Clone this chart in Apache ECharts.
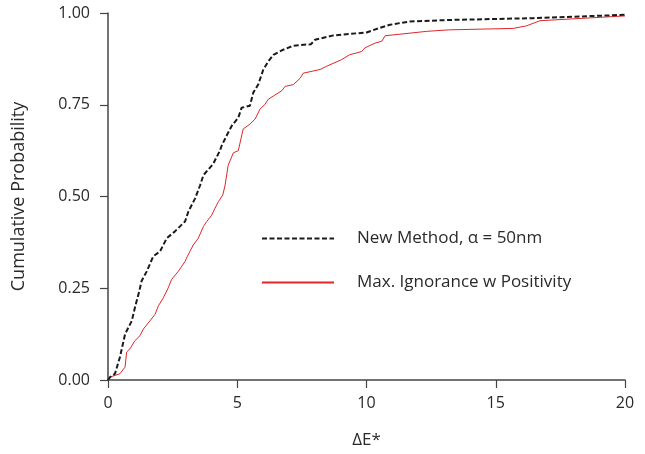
<!DOCTYPE html>
<html>
<head>
<meta charset="utf-8">
<script src="https://cdn.jsdelivr.net/npm/echarts@6/dist/echarts.min.js"></script>
<style>
  html, body { margin: 0; padding: 0; background: #fff; }
  #chart { width: 645px; height: 454px; }
</style>
</head>
<body>
<div id="chart"></div>
<script>
// New Method, alpha = 50nm  (dE*, cumulative probability)
const newMethodX = [0, 0.08, 0.27, 0.46, 0.66, 0.92, 1.04, 1.21, 1.30, 1.50, 1.75, 2.01, 2.27, 2.59, 2.98, 3.11, 3.37, 3.56, 3.69, 4.07, 4.33, 4.40, 4.59, 4.79, 5.04, 5.17, 5.49, 5.62, 5.81, 6.01, 6.20, 6.40, 6.78, 7.17, 7.85, 8.01, 8.72, 9.36, 10.0, 10.46, 10.91, 11.68, 13.23, 16.45, 20]
const newMethodY = [0, 0.008, 0.017, 0.062, 0.125, 0.161, 0.197, 0.242, 0.27, 0.296, 0.337, 0.35, 0.386, 0.405, 0.432, 0.459, 0.495, 0.53, 0.558, 0.589, 0.625, 0.639, 0.666, 0.693, 0.715, 0.742, 0.747, 0.783, 0.805, 0.846, 0.868, 0.886, 0.90, 0.911, 0.915, 0.927, 0.939, 0.943, 0.947, 0.958, 0.968, 0.977, 0.981, 0.986, 0.995]

// Max. Ignorance w Positivity
const maxIgnX = [0, 0.08, 0.46, 0.66, 0.72, 0.85, 1.04, 1.24, 1.37, 1.62, 1.82, 1.95, 2.14, 2.33, 2.46, 2.72, 2.98, 3.07, 3.30, 3.49, 3.69, 3.82, 4.01, 4.14, 4.27, 4.44, 4.53, 4.65, 4.85, 5.04, 5.23, 5.49, 5.69, 5.88, 6.07, 6.20, 6.40, 6.72, 6.85, 7.17, 7.43, 7.55, 8.20, 8.46, 9.04, 9.34, 9.81, 9.94, 10.33, 10.59, 10.72, 10.78, 12.33, 13.16, 15.68, 16.19, 16.71, 20]
const maxIgnY = [0, 0.008, 0.017, 0.035, 0.076, 0.085, 0.107, 0.121, 0.139, 0.161, 0.179, 0.202, 0.224, 0.251, 0.274, 0.296, 0.323, 0.337, 0.368, 0.386, 0.418, 0.432, 0.449, 0.468, 0.486, 0.504, 0.531, 0.585, 0.619, 0.625, 0.684, 0.697, 0.711, 0.738, 0.751, 0.765, 0.774, 0.788, 0.80, 0.805, 0.822, 0.836, 0.846, 0.855, 0.873, 0.886, 0.895, 0.905, 0.918, 0.923, 0.938, 0.941, 0.95, 0.954, 0.958, 0.965, 0.979, 0.992]

const seriesNames = ['New Method, α = 50nm', 'Max. Ignorance w Positivity']

const chart = echarts.init(document.getElementById('chart'))

const axisColor = '#444'
const textColor = '#2a2a2a'
const fontFamily = '"Open Sans", Lato, sans-serif'

const option = {
  animation: false,
  textStyle: { fontFamily: fontFamily },
  grid: {
    left: 108,
    right: 20,
    top: 13,
    bottom: 71
  },
  legend: {
    orient: 'vertical',
    left: 256,
    top: 225,
    itemWidth: 72,
    itemHeight: 14,
    itemGap: 27,
    data: seriesNames,
    itemStyle: { opacity: 0 },
    textStyle: {
      fontSize: 17,
      color: textColor,
      fontFamily: fontFamily,
      padding: [0, 0, 0, 18]
    }
  },
  xAxis: {
    type: 'value',
    min: 0,
    max: 20,
    interval: 5,
    name: 'ΔE*',
    nameLocation: 'middle',
    nameGap: 52,
    nameTextStyle: { fontSize: 17, color: textColor },
    splitLine: { show: false },
    axisLine: { lineStyle: { color: axisColor, width: 1.5 } },
    axisTick: { inside: false, length: 8, lineStyle: { color: axisColor, width: 1.2 } },
    axisLabel: { fontSize: 16, color: textColor, margin: 15 }
  },
  yAxis: {
    type: 'value',
    min: 0,
    max: 1,
    interval: 0.25,
    name: 'Cumulative Probability',
    nameLocation: 'middle',
    nameGap: 80,
    nameTextStyle: { fontSize: 18, color: textColor },
    splitLine: { show: false },
    axisLine: { show: true, lineStyle: { color: axisColor, width: 1.5 } },
    axisTick: { show: true, inside: false, length: 8, lineStyle: { color: axisColor, width: 1.2 } },
    axisLabel: {
      fontSize: 16,
      color: textColor,
      margin: 18,
      formatter: v => v.toFixed(2)
    }
  },
  series: [
    {
      name: seriesNames[0],
      type: 'line',
      symbol: 'none',
      data: newMethodX.map((x, i) => [x, newMethodY[i]]),
      lineStyle: { color: '#1a1a1a', width: 2, type: [5, 2.5] },
      itemStyle: { color: '#1a1a1a' },
      z: 3
    },
    {
      name: seriesNames[1],
      type: 'line',
      symbol: 'none',
      data: maxIgnX.map((x, i) => [x, maxIgnY[i]]),
      lineStyle: { color: '#e0262a', width: 1 },
      itemStyle: { color: '#e0262a' },
      z: 2
    }
  ]
}

chart.setOption(option)

window.addEventListener('resize', () => {
  chart.resize()
})
</script>
</body>
</html>
